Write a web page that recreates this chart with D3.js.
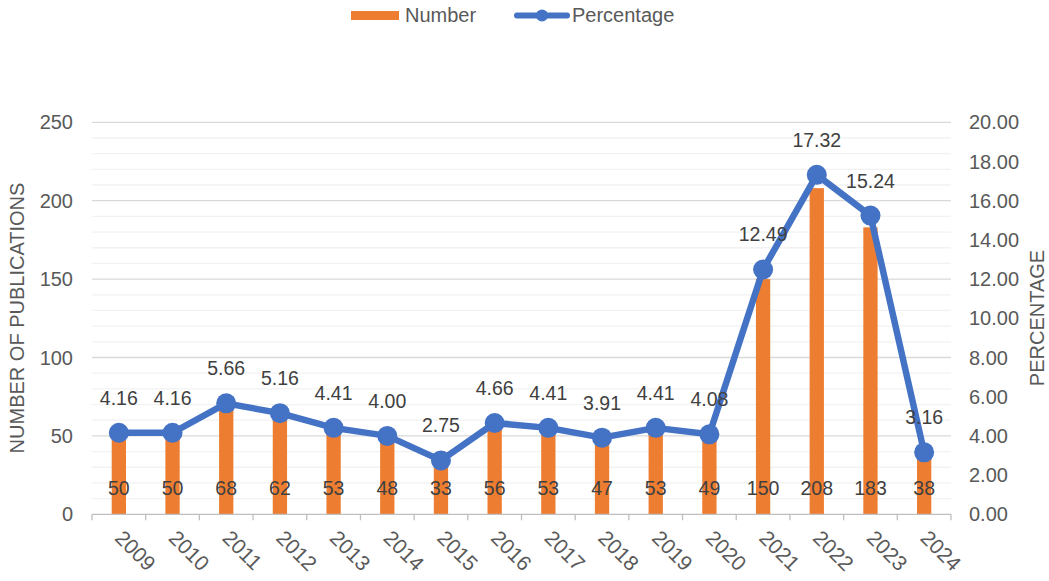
<!DOCTYPE html>
<html><head><meta charset="utf-8">
<script src="https://cdn.jsdelivr.net/npm/d3@7"></script>
<style>body{margin:0;background:#fff;} text{font-family:"Liberation Sans",Arial,sans-serif;}</style>
</head><body><svg id="c" width="1049" height="581"></svg>
<script>
const years = ["2009","2010","2011","2012","2013","2014","2015","2016","2017","2018","2019","2020","2021","2022","2023","2024"];
const numbers = [50,50,68,62,53,48,33,56,53,47,53,49,150,208,183,38];
const percentages = [4.16,4.16,5.66,5.16,4.41,4.00,2.75,4.66,4.41,3.91,4.41,4.08,12.49,17.32,15.24,3.16];
const leftTicks = [0,50,100,150,200,250];
const rightTicks = [0,2,4,6,8,10,12,14,16,18,20];

const svg = d3.select("#c");
const L = 92, R = 951, T = 122.3, B = 514.3;
const x = d3.scaleBand().domain(years).range([L, R]);
const yL = d3.scaleLinear().domain([0,250]).range([B, T]);
const yR = d3.scaleLinear().domain([0,20]).range([B, T]);
const gray = "#595959";

// minor gridlines
svg.append("g").selectAll("line").data(d3.range(0,251,10).filter(v=>v%50!==0)).join("line")
  .attr("x1",L).attr("x2",R).attr("y1",d=>yL(d)).attr("y2",d=>yL(d))
  .attr("stroke","#f2f2f2").attr("stroke-width",1.3);
// major gridlines
svg.append("g").selectAll("line").data(leftTicks.filter(v=>v>0)).join("line")
  .attr("x1",L).attr("x2",R).attr("y1",d=>yL(d)).attr("y2",d=>yL(d))
  .attr("stroke","#d9d9d9").attr("stroke-width",1.3);

// bars
const bw = 14.3;
svg.append("g").selectAll("rect").data(years).join("rect")
  .attr("x",(d)=>x(d)+x.bandwidth()/2-bw/2).attr("width",bw)
  .attr("y",(d,i)=>yL(numbers[i])).attr("height",(d,i)=>B-yL(numbers[i]))
  .attr("fill","#ED7D31");

// bottom axis line & ticks
svg.append("line").attr("x1",L).attr("x2",R).attr("y1",B).attr("y2",B).attr("stroke","#bfbfbf").attr("stroke-width",1.3);
svg.append("g").selectAll("line").data(years.concat(["end"])).join("line")
  .attr("x1",(d,i)=>L+i*x.bandwidth()).attr("x2",(d,i)=>L+i*x.bandwidth())
  .attr("y1",B).attr("y2",B+6).attr("stroke","#bfbfbf").attr("stroke-width",1.3);

// bar labels
svg.append("g").selectAll("text").data(years).join("text")
  .attr("x",d=>x(d)+x.bandwidth()/2).attr("y",495)
  .attr("text-anchor","middle").attr("font-size",19.5).attr("fill","#404040")
  .text((d,i)=>numbers[i]);

// line
const line = d3.line().x((d,i)=>x(years[i])+x.bandwidth()/2).y(d=>yR(d));
svg.append("path").datum(percentages).attr("d",line).attr("fill","none")
  .attr("stroke","#4472C4").attr("stroke-width",6.5).attr("stroke-linejoin","round");
svg.append("g").selectAll("circle").data(percentages).join("circle")
  .attr("cx",(d,i)=>x(years[i])+x.bandwidth()/2).attr("cy",d=>yR(d)).attr("r",10)
  .attr("fill","#4472C4");
svg.append("g").selectAll("text").data(percentages).join("text")
  .attr("x",(d,i)=>x(years[i])+x.bandwidth()/2).attr("y",d=>yR(d)-28)
  .attr("text-anchor","middle").attr("font-size",19.5).attr("fill","#404040")
  .text(d=>d.toFixed(2));

// left axis ticks
svg.append("g").selectAll("text").data(leftTicks).join("text")
  .attr("x",73).attr("y",d=>yL(d)+7).attr("text-anchor","end")
  .attr("font-size",20).attr("fill",gray).text(d=>d);
// right axis ticks
svg.append("g").selectAll("text").data(rightTicks).join("text")
  .attr("x",969).attr("y",d=>yR(d)+7).attr("text-anchor","start")
  .attr("font-size",20).attr("fill",gray).text(d=>d.toFixed(2));

// x labels
svg.append("g").selectAll("text").data(years).join("text")
  .attr("transform",d=>`translate(${x(d)+x.bandwidth()/2-5},${B+25}) rotate(45)`)
  .attr("text-anchor","start").attr("font-size",21).attr("fill",gray).text(d=>d);

// axis titles
svg.append("text").attr("transform",`translate(24,318) rotate(-90)`).attr("text-anchor","middle")
  .attr("font-size",20).attr("fill",gray).text("NUMBER OF PUBLICATIONS");
svg.append("text").attr("transform",`translate(1044,318) rotate(-90)`).attr("text-anchor","middle")
  .attr("font-size",20).attr("fill",gray).text("PERCENTAGE");

// legend
const lg = svg.append("g");
lg.append("rect").attr("x",351).attr("y",11).attr("width",48).attr("height",9).attr("fill","#ED7D31");
lg.append("text").attr("x",405).attr("y",22).attr("font-size",20).attr("fill",gray).text("Number");
lg.append("line").attr("x1",517).attr("x2",567).attr("y1",15.5).attr("y2",15.5).attr("stroke","#4472C4").attr("stroke-width",6).attr("stroke-linecap","round");
lg.append("circle").attr("cx",542).attr("cy",15.5).attr("r",6).attr("fill","#4472C4");
lg.append("text").attr("x",572).attr("y",22).attr("font-size",20).attr("fill",gray).text("Percentage");
</script></body></html>
